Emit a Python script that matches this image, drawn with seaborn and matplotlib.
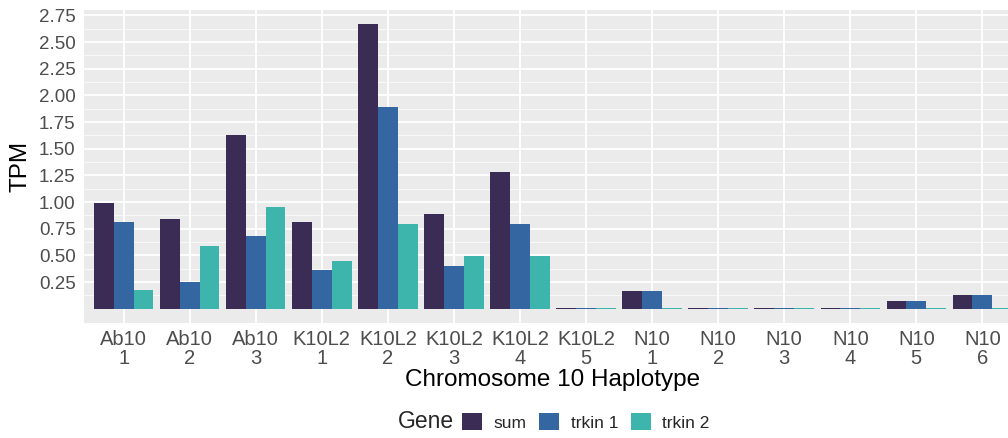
import matplotlib
matplotlib.use("Agg")
import matplotlib.pyplot as plt
import seaborn as sns
import pandas as pd
from matplotlib.patches import Patch

haplotypes = ["Ab10\n1", "Ab10\n2", "Ab10\n3", "K10L2\n1", "K10L2\n2", "K10L2\n3", "K10L2\n4",
              "K10L2\n5", "N10\n1", "N10\n2", "N10\n3", "N10\n4", "N10\n5", "N10\n6"]
genes = ["sum", "trkin 1", "trkin 2"]
sum_vals = [0.99, 0.84, 1.63, 0.81, 2.67, 0.89, 1.28, 0.005, 0.17, 0.005, 0.005, 0.005, 0.07, 0.13]
trkin1_vals = [0.81, 0.25, 0.68, 0.36, 1.89, 0.40, 0.79, 0.003, 0.17, 0.003, 0.003, 0.003, 0.07, 0.13]
trkin2_vals = [0.18, 0.59, 0.95, 0.45, 0.79, 0.49, 0.49, 0.003, 0.003, 0.003, 0.003, 0.003, 0.003, 0.003]
colors = ["#3a2c55", "#3467a1", "#3eb5ac"]

rows = []
for h, a, b, c in zip(haplotypes, sum_vals, trkin1_vals, trkin2_vals):
    rows += [(h, "sum", a), (h, "trkin 1", b), (h, "trkin 2", c)]
df = pd.DataFrame(rows, columns=["Haplotype", "Gene", "TPM"])

sns.set_theme(style="darkgrid")
plt.rcParams["font.family"] = ["Liberation Sans", "DejaVu Sans"]

W, H = 1008, 438
fig = plt.figure(figsize=(W / 100, H / 100), dpi=100)
ax = fig.add_axes([84 / W, (H - 323) / H, (1022 - 84) / W, (323 - 10) / H])
ax.set_facecolor("#ebebeb")

sns.barplot(data=df, x="Haplotype", y="TPM", hue="Gene", hue_order=genes,
            order=haplotypes, palette=colors, width=0.9, saturation=1,
            ax=ax, legend=False, linewidth=0, zorder=3)

ax.set_xlim(-0.6, len(haplotypes) - 0.4)
ax.set_ylim(-0.134, 2.80)
major = [0.25 * i for i in range(1, 12)]
ax.set_yticks(major)
ax.set_yticklabels([f"{v:.2f}" for v in major])
ax.set_yticks([0.125 + 0.25 * i for i in range(11)], minor=True)
ax.grid(True, which="major", color="white", linewidth=1.3, zorder=0)
ax.grid(True, which="minor", axis="y", color="white", linewidth=0.5, zorder=0)
ax.set_axisbelow(True)
for s in ax.spines.values():
    s.set_visible(False)
ax.tick_params(axis="y", which="major", length=4, width=1.1, color="#333333",
               labelcolor="#4d4d4d", labelsize=13.5, pad=2)
ax.tick_params(axis="x", which="major", length=4, width=1.1, color="#333333",
               labelcolor="#4d4d4d", labelsize=14.5, pad=1)
ax.tick_params(axis="both", which="minor", length=0)
for lab in ax.get_xticklabels():
    lab.set_linespacing(1.0)
ax.set_xlabel("Chromosome 10 Haplotype", fontsize=17.5, color="black", labelpad=1)
ax.set_ylabel("TPM", fontsize=17.5, color="black", labelpad=5)

fig.text(398 / W, 1 - 422 / H, "Gene", fontsize=16.5, va="center", ha="left")
handles = [Patch(facecolor=c, edgecolor="none") for c in colors]
fig.legend(handles, genes, loc="center left", bbox_to_anchor=(462 / W, 1 - 422 / H),
           ncol=3, frameon=False, fontsize=12.5, handlelength=1.15, handleheight=1.15,
           handletextpad=0.65, columnspacing=0.75, borderpad=0, borderaxespad=0)

fig.savefig("out.png", dpi=100)
